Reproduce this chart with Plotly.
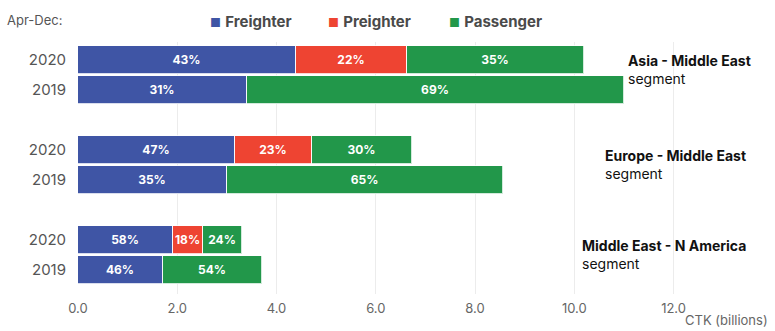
import plotly.graph_objects as go

# ---- data ----
years = ["2020", "2019", "2020", "2019", "2020", "2019"]
row_pos = [0, 1, 3, 4, 6, 7]
segments = ["Asia - Middle East", "Europe - Middle East", "Middle East - N America"]
segment_rows = [0.33, 3.47, 6.47]
segment_x = [11.05, 10.58, 10.12]

freighter = [4.39, 3.41, 3.16, 3.00, 1.92, 1.71]
preighter = [2.24, None, 1.55, None, 0.60, None]
passenger = [3.57, 7.59, 2.02, 5.57, 0.79, 2.00]

freighter_pct = [43, 31, 47, 35, 58, 46]
preighter_pct = [22, None, 23, None, 18, None]
passenger_pct = [35, 69, 30, 65, 24, 54]

x_ticks = [0, 2, 4, 6, 8, 10, 12]
x_tick_labels = ["0.0", "2.0", "4.0", "6.0", "8.0", "10.0", "12.0"]

series_names = ["Freighter", "Preighter", "Passenger"]
colors = ["#3F55A5", "#EE4432", "#22974A"]

FONT = "Inter, Roboto, 'Open Sans', sans-serif"
L, R, T, B = 78, 27, 42, 37
PW = 775 - L - R


def pct_text(vals):
    return ["" if v is None else f"{v}%" for v in vals]


fig = go.Figure()
for name, vals, pcts, col in zip(series_names,
                                 [freighter, preighter, passenger],
                                 [freighter_pct, preighter_pct, passenger_pct],
                                 colors):
    fig.add_trace(go.Bar(
        name=name, y=row_pos, x=vals, orientation="h",
        marker=dict(color=col, line=dict(color="rgba(255,255,255,0.8)", width=1)),
        width=0.93,
        text=pct_text(pcts), textposition="inside", insidetextanchor="middle",
        textfont=dict(color="white", size=12, family=FONT, weight="bold"),
        constraintext="none",
        showlegend=False,
        hoverinfo="x+name",
    ))

# manual legend
legend_x = [208, 326, 447]
for name, col, lx in zip(series_names, colors, legend_x):
    fig.add_annotation(
        xref="paper", yref="paper", x=(lx - L) / PW, y=1.0, yshift=21,
        xanchor="left", yanchor="middle", showarrow=False,
        text=f"<span style='color:{col};font-size:12px'>■</span> <b>{name}</b>",
        font=dict(size=15, color="#4a4a4a", family=FONT),
    )

fig.add_annotation(
    xref="paper", yref="paper", x=(5 - L) / PW, y=1.0, yshift=22,
    xanchor="left", yanchor="middle", showarrow=False,
    text="Apr-Dec:", font=dict(size=13, color="#555555", family=FONT),
)

for seg, yr, xs in zip(segments, segment_rows, segment_x):
    fig.add_annotation(
        x=xs, y=yr, xref="x", yref="y", xanchor="left", yanchor="middle",
        showarrow=False, align="left",
        text=f"<b>{seg}</b><br>segment",
        font=dict(size=14, color="#111111", family=FONT),
    )

fig.add_annotation(
    xref="paper", yref="paper", x=(770 - L) / PW, y=0, yshift=-26,
    xanchor="right", yanchor="middle", showarrow=False,
    text="CTK (billions)", font=dict(size=13, color="#666666", family=FONT),
)

fig.update_layout(
    barmode="stack",
    width=775, height=331,
    margin=dict(l=L, r=R, t=T, b=B, autoexpand=False),
    plot_bgcolor="white", paper_bgcolor="white",
    font=dict(family=FONT),
    bargap=0,
)
fig.update_xaxes(
    range=[0, 13.5], tickvals=x_ticks, ticktext=x_tick_labels,
    showgrid=True, gridcolor="#ececec", gridwidth=1, zeroline=False,
    tickfont=dict(size=13, color="#666666"), ticks="", showline=False,
    ticklabelstandoff=5, automargin=False,
)
fig.update_yaxes(
    range=[7.8, -0.6], tickvals=row_pos, ticktext=years,
    showgrid=False, zeroline=False, ticks="", showline=False,
    tickfont=dict(size=15, color="#555555"), ticklabelstandoff=11,
    automargin=False,
)

fig.write_html(
    "out.html",
    config={"displayModeBar": False},
    post_script="document.body.style.margin='0';document.body.style.overflow='hidden';",
)
